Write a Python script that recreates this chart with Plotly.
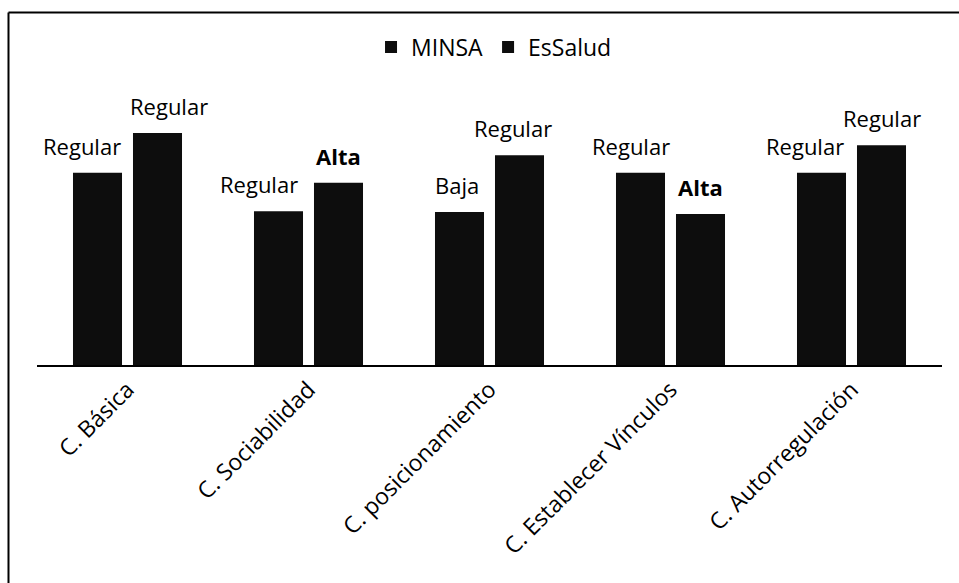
import plotly.graph_objects as go

categories = ["C. Básica", "C. Sociabilidad", "C. posicionamiento",
              "C. Establecer Vínculos", "C. Autorregulación"]
minsa_values = [50.0, 40.0, 39.8, 50.0, 50.0]
essalud_values = [60.4, 47.4, 54.6, 39.3, 57.2]
minsa_labels = ["Regular", "Regular", "Baja", "Regular", "Regular"]
essalud_labels = ["Regular", "<b>Alta</b>", "Regular", "<b>Alta</b>", "Regular"]

# label nudges (px) relative to bar centres, as placed in the reference
minsa_nudge = [-16, -20, -3, -10, -17]
essalud_nudge = [11, 0, -7, 0, 0]

FONT = "Open Sans"
W = 500
BAR = "#0d0d0d"

fig = go.Figure()
fig.add_trace(go.Bar(name="MINSA", x=categories, y=minsa_values,
                     marker=dict(color=BAR, line=dict(width=0))))
fig.add_trace(go.Bar(name="EsSalud", x=categories, y=essalud_values,
                     marker=dict(color=BAR, line=dict(width=0))))

annotations = []
for i, c in enumerate(categories):
    annotations.append(dict(x=c, y=minsa_values[i], xref="x", yref="y",
                            text=minsa_labels[i], showarrow=False,
                            xanchor="center", yanchor="bottom",
                            xshift=-30 + minsa_nudge[i], yshift=10,
                            font=dict(family=FONT, size=22, color="black", weight=W)))
    annotations.append(dict(x=c, y=essalud_values[i], xref="x", yref="y",
                            text=essalud_labels[i], showarrow=False,
                            xanchor="center", yanchor="bottom",
                            xshift=30 + essalud_nudge[i], yshift=10,
                            font=dict(family=FONT, size=22, color="black", weight=W)))

fig.update_layout(
    width=959, height=583,
    margin=dict(l=37, r=17, t=96, b=218, autoexpand=False),
    paper_bgcolor="white", plot_bgcolor="white",
    barmode="group", bargap=0.337, bargroupgap=0.183,
    font=dict(family=FONT, size=22, color="black", weight=W),
    showlegend=True,
    legend=dict(orientation="h", x=0.505, xanchor="center", y=1.182, yanchor="middle",
                font=dict(family=FONT, size=23, color="black", weight=W),
                bgcolor="rgba(0,0,0,0)", itemwidth=30),
    xaxis=dict(showline=True, linecolor="black", linewidth=2, tickangle=-45,
               ticks="", showgrid=False, automargin=False,
               tickfont=dict(family=FONT, size=23, color="black", weight=W)),
    yaxis=dict(range=[0, 70], visible=False, showgrid=False, zeroline=False,
               automargin=False),
    annotations=annotations,
    shapes=[
        dict(type="line", xref="paper", yref="paper",
             x0=-0.0315, x1=1.2, y0=1.31, y1=1.31,
             line=dict(color="black", width=2)),
        dict(type="line", xref="paper", yref="paper",
             x0=-0.0315, x1=-0.0315, y0=-1.0, y1=1.31,
             line=dict(color="black", width=2)),
    ],
)

fig.write_html("out.html", config={"displayModeBar": False},
               post_script="document.body.style.margin='0';document.body.style.overflow='hidden';")
